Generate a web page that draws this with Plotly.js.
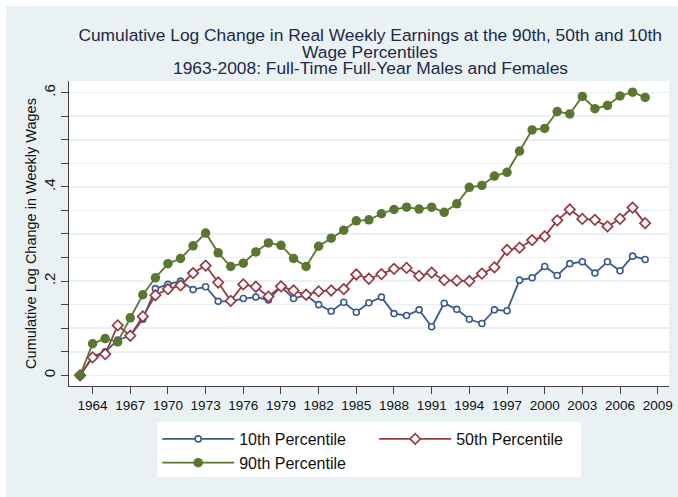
<!DOCTYPE html>
<html>
<head>
<meta charset="utf-8">
<script src="https://cdn.plot.ly/plotly-3.0.1.min.js"></script>
<style>
  html, body { margin: 0; padding: 0; background: #ffffff; }
  #chart { position: absolute; left: 6px; top: 6px; width: 672px; height: 491px; }
</style>
</head>
<body>
<div id="chart"></div>
<script>
const years = [1963,1964,1965,1966,1967,1968,1969,1970,1971,1972,1973,1974,1975,1976,1977,1978,1979,1980,1981,1982,1983,1984,1985,1986,1987,1988,1989,1990,1991,1992,1993,1994,1995,1996,1997,1998,1999,2000,2001,2002,2003,2004,2005,2006,2007,2008];

const p10 = [0,0.040,0.050,0.075,0.084,0.119,0.184,0.193,0.200,0.182,0.188,0.157,0.157,0.163,0.166,0.160,0.188,0.163,0.170,0.150,0.136,0.155,0.134,0.154,0.166,0.131,0.127,0.139,0.103,0.153,0.140,0.119,0.110,0.139,0.137,0.202,0.207,0.231,0.212,0.237,0.241,0.217,0.241,0.222,0.253,0.246];

const p50 = [0,0.038,0.045,0.106,0.084,0.125,0.170,0.183,0.191,0.217,0.233,0.197,0.158,0.193,0.188,0.167,0.189,0.180,0.171,0.178,0.180,0.183,0.214,0.205,0.215,0.226,0.228,0.211,0.218,0.202,0.201,0.200,0.216,0.229,0.266,0.271,0.287,0.295,0.329,0.352,0.332,0.330,0.316,0.332,0.356,0.323];

const p90 = [0,0.067,0.078,0.071,0.122,0.171,0.207,0.237,0.248,0.275,0.302,0.260,0.231,0.238,0.262,0.281,0.276,0.248,0.231,0.274,0.291,0.308,0.328,0.330,0.343,0.352,0.357,0.353,0.357,0.346,0.364,0.399,0.403,0.423,0.431,0.476,0.521,0.524,0.560,0.555,0.592,0.566,0.573,0.593,0.601,0.590];

const seriesNames = ["10th Percentile", "50th Percentile", "90th Percentile"];
const xTickVals = [1964,1967,1970,1973,1976,1979,1982,1985,1988,1991,1994,1997,2000,2003,2006,2009];
const yTickVals = [0,0.05,0.1,0.15,0.2,0.25,0.3,0.35,0.4,0.45,0.5,0.55,0.6];
const yTickText = ["0","","","",".2","","","",".4","","","",".6"];

const titleLines = [
  "Cumulative Log Change in Real Weekly Earnings at the 90th, 50th and 10th",
  "Wage Percentiles",
  "1963-2008: Full-Time Full-Year Males and Females"
];
const yTitle = "Cumulative Log Change in Weekly Wages";

const FONT = "Liberation Sans, Arial, sans-serif";
const cBlue = "#3a5a8c", cRed = "#973a44", cGreen = "#5a7731";
const cTitle = "#1c2a48";
const TSIZE = 17.4;

const traces = [
  { x: years, y: p10, name: seriesNames[0], type: "scatter", mode: "lines+markers",
    line: { color: cBlue, width: 1.8 },
    marker: { symbol: "circle", size: 6, color: "#ffffff", line: { color: cBlue, width: 1.6 } } },
  { x: years, y: p50, name: seriesNames[1], type: "scatter", mode: "lines+markers",
    line: { color: cRed, width: 1.8 },
    marker: { symbol: "diamond", size: 8, color: "#ffffff", line: { color: cRed, width: 1.7 } } },
  { x: years, y: p90, name: seriesNames[2], type: "scatter", mode: "lines+markers",
    line: { color: cGreen, width: 1.8 },
    marker: { symbol: "circle", size: 9.5, color: cGreen, line: { width: 0 } } }
];

const layout = {
  width: 672, height: 491,
  margin: { l: 63, r: 9, t: 75, b: 111 },
  paper_bgcolor: "#eaf1f3",
  plot_bgcolor: "#ffffff",
  font: { family: FONT, color: "#111111" },
  title: { text: titleLines[0], font: { family: FONT, size: TSIZE, color: cTitle },
           xref: "paper", x: 0.502, xanchor: "center",
           yref: "container", y: 1 - 29 / 491, yanchor: "middle" },
  annotations: [
    { text: titleLines[1], xref: "paper", yref: "paper", x: 0.502, y: 1 + (75 - 45.5) / 305,
      xanchor: "center", yanchor: "middle", showarrow: false,
      font: { family: FONT, size: TSIZE, color: cTitle } },
    { text: titleLines[2], xref: "paper", yref: "paper", x: 0.502, y: 1 + (75 - 62) / 305,
      xanchor: "center", yanchor: "middle", showarrow: false,
      font: { family: FONT, size: TSIZE, color: cTitle } }
  ],
  shapes: [
    { type: "rect", xref: "paper", yref: "paper", layer: "below",
      x0: (151 - 63) / 600, x1: (575 - 63) / 600, y0: (380 - 416) / 305, y1: (380 - 471) / 305,
      fillcolor: "#ffffff", line: { width: 0 } }
  ],
  xaxis: {
    range: [1962.12, 2009.9], tickmode: "array", tickvals: xTickVals,
    ticks: "outside", ticklen: 7, tickcolor: "#444", tickwidth: 1,
    showline: true, linecolor: "#444", linewidth: 1, mirror: false,
    showgrid: false, zeroline: false,
    tickfont: { family: FONT, size: 13.5, color: "#111" }
  },
  yaxis: {
    range: [-0.0227, 0.6248], tickmode: "array", tickvals: yTickVals, ticktext: yTickText,
    ticks: "outside", ticklen: 7, tickcolor: "#444", tickwidth: 1, tickangle: -90,
    showline: true, linecolor: "#444", linewidth: 1,
    showgrid: true, gridcolor: "#e9f0f2", gridwidth: 1.6, zeroline: false,
    tickfont: { family: FONT, size: 15, color: "#111" },
    title: { text: yTitle, font: { family: FONT, size: 14.5, color: "#111" }, standoff: 0 }
  },
  showlegend: true,
  legend: {
    orientation: "h", x: 0.147, xanchor: "left", y: -0.118, yanchor: "top",
    bgcolor: "rgba(0,0,0,0)", borderwidth: 0,
    font: { family: FONT, size: 16, color: "#111" },
    entrywidthmode: "pixels", entrywidth: 130, itemwidth: 72,
    traceorder: "normal"
  }
};

Plotly.newPlot("chart", traces, layout, { displayModeBar: false, staticPlot: true });
</script>
</body>
</html>
